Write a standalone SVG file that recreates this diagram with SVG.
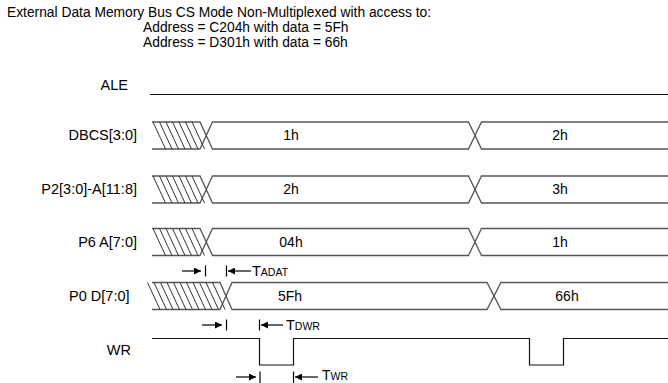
<svg xmlns="http://www.w3.org/2000/svg" width="668" height="383" viewBox="0 0 668 383">
<defs>
<style>
text{font-family:"Liberation Sans",Arial,sans-serif;fill:#000;}
.t{font-size:13.8px;}
.lbl{font-size:14.5px;text-anchor:end;}
.val{font-size:14px;text-anchor:middle;}
.bus{fill:none;stroke:#555;stroke-width:1.3;}
.sig{fill:none;stroke:#111;stroke-width:1.2;}
.h{stroke:#333;stroke-width:1;}
.dim{stroke:#000;stroke-width:1.2;fill:none;}
.sub{font-size:10.5px;}
</style>
<marker id="ah" viewBox="0 0 10 10" refX="10" refY="5" markerWidth="10" markerHeight="7" markerUnits="userSpaceOnUse" orient="auto">
<path d="M0,0 L10,5 L0,10 z" fill="#000"/>
</marker>
</defs>
<rect width="668" height="383" fill="#fff"/>
<g id="title">
<text class="t" x="7" y="17">External Data Memory Bus CS Mode Non-Multiplexed with access to:</text>
<text class="t" x="143" y="32">Address = C204h with data = 5Fh</text>
<text class="t" x="143" y="47">Address = D301h with data = 66h</text>
</g>
<g id="ale">
<text class="lbl" x="128" y="90">ALE</text>
<line class="sig" x1="150" y1="94.5" x2="668" y2="94.5" stroke="#444"/>
</g>
<g id="dbcs">
<text class="lbl" x="137" y="140">DBCS[3:0]</text>
<path class="bus" d="M152,122 H200 L212.5,149 H468.5 L481.5,122 H668 M152,149 H200 L212.5,122 H468.5 L481.5,149 H668"/>
<path class="h" d="M153,122 L165.5,149 M159.5,122 L172,149 M166,122 L178.5,149 M172.5,122 L185,149 M179,122 L191.5,149 M185.5,122 L198,149 M192,122 L204.5,149"/>
<text class="val" x="291" y="140">1h</text>
<text class="val" x="560" y="140">2h</text>
</g>
<g id="p2">
<text class="lbl" x="137" y="194">P2[3:0]-A[11:8]</text>
<path class="bus" d="M152,176 H200 L212.5,203 H468.5 L481.5,176 H668 M152,203 H200 L212.5,176 H468.5 L481.5,203 H668"/>
<path class="h" d="M153,176 L165.5,203 M159.5,176 L172,203 M166,176 L178.5,203 M172.5,176 L185,203 M179,176 L191.5,203 M185.5,176 L198,203 M192,176 L204.5,203"/>
<text class="val" x="291" y="194">2h</text>
<text class="val" x="560" y="194">3h</text>
</g>
<g id="p6">
<text class="lbl" x="137" y="247">P6 A[7:0]</text>
<path class="bus" d="M152,228.5 H200 L212.5,255.5 H468.5 L481.5,228.5 H668 M152,255.5 H200 L212.5,228.5 H468.5 L481.5,255.5 H668"/>
<path class="h" d="M153,228.5 L165.5,255.5 M159.5,228.5 L172,255.5 M166,228.5 L178.5,255.5 M172.5,228.5 L185,255.5 M179,228.5 L191.5,255.5 M185.5,228.5 L198,255.5 M192,228.5 L204.5,255.5"/>
<text class="val" x="291" y="247">04h</text>
<text class="val" x="560" y="247">1h</text>
</g>
<g id="p0">
<text class="lbl" x="129.5" y="301">P0 D[7:0]</text>
<path class="bus" d="M152,282.5 H220 L232,309.5 H487 L501,282.5 H668 M152,309.5 H220 L232,282.5 H487 L501,309.5 H668"/>
<path class="h" d="M147.5,282.5 L160,309.5 M154,282.5 L166.5,309.5 M160.5,282.5 L173,309.5 M167,282.5 L179.5,309.5 M173.5,282.5 L186,309.5 M180,282.5 L192.5,309.5 M186.5,282.5 L199,309.5 M193,282.5 L205.5,309.5 M199.5,282.5 L212,309.5 M206,282.5 L218.5,309.5 M212.5,282.5 L225,309.5"/>
<text class="val" x="290" y="301">5Fh</text>
<text class="val" x="567" y="301">66h</text>
</g>
<g id="wr">
<text class="lbl" x="131" y="355">WR</text>
<path class="sig" d="M152,338.5 H259.5 V365 H293.5 V338.5 H529.5 V365 H563.5 V338.5 H668"/>
</g>
<g id="connectors">
<line class="dim" x1="182" y1="271" x2="201" y2="271" marker-end="url(#ah)"/>
<line class="dim" x1="205.5" y1="265.5" x2="205.5" y2="276.5"/>
<line class="dim" x1="226.5" y1="265.5" x2="226.5" y2="276.5"/>
<line class="dim" x1="251" y1="271" x2="228" y2="271" marker-end="url(#ah)"/>
<line class="dim" x1="202" y1="325" x2="222" y2="325" marker-end="url(#ah)"/>
<line class="dim" x1="226.5" y1="319.5" x2="226.5" y2="330.5"/>
<line class="dim" x1="259.5" y1="319.5" x2="259.5" y2="330.5"/>
<line class="dim" x1="283" y1="325" x2="261" y2="325" marker-end="url(#ah)"/>
<line class="dim" x1="236" y1="377" x2="256" y2="377" marker-end="url(#ah)"/>
<line class="dim" x1="260" y1="371.5" x2="260" y2="383"/>
<line class="dim" x1="293.5" y1="371.5" x2="293.5" y2="383"/>
<line class="dim" x1="318" y1="377" x2="295" y2="377" marker-end="url(#ah)"/>
</g>
<g id="timing-labels">
<text x="252" y="276" style="font-size:14.5px">T<tspan class="sub">ADAT</tspan></text>
<text x="286" y="330" style="font-size:14.5px">T<tspan class="sub">DWR</tspan></text>
<text x="322" y="380" style="font-size:14px">T<tspan class="sub">WR</tspan></text>
</g>
</svg>
